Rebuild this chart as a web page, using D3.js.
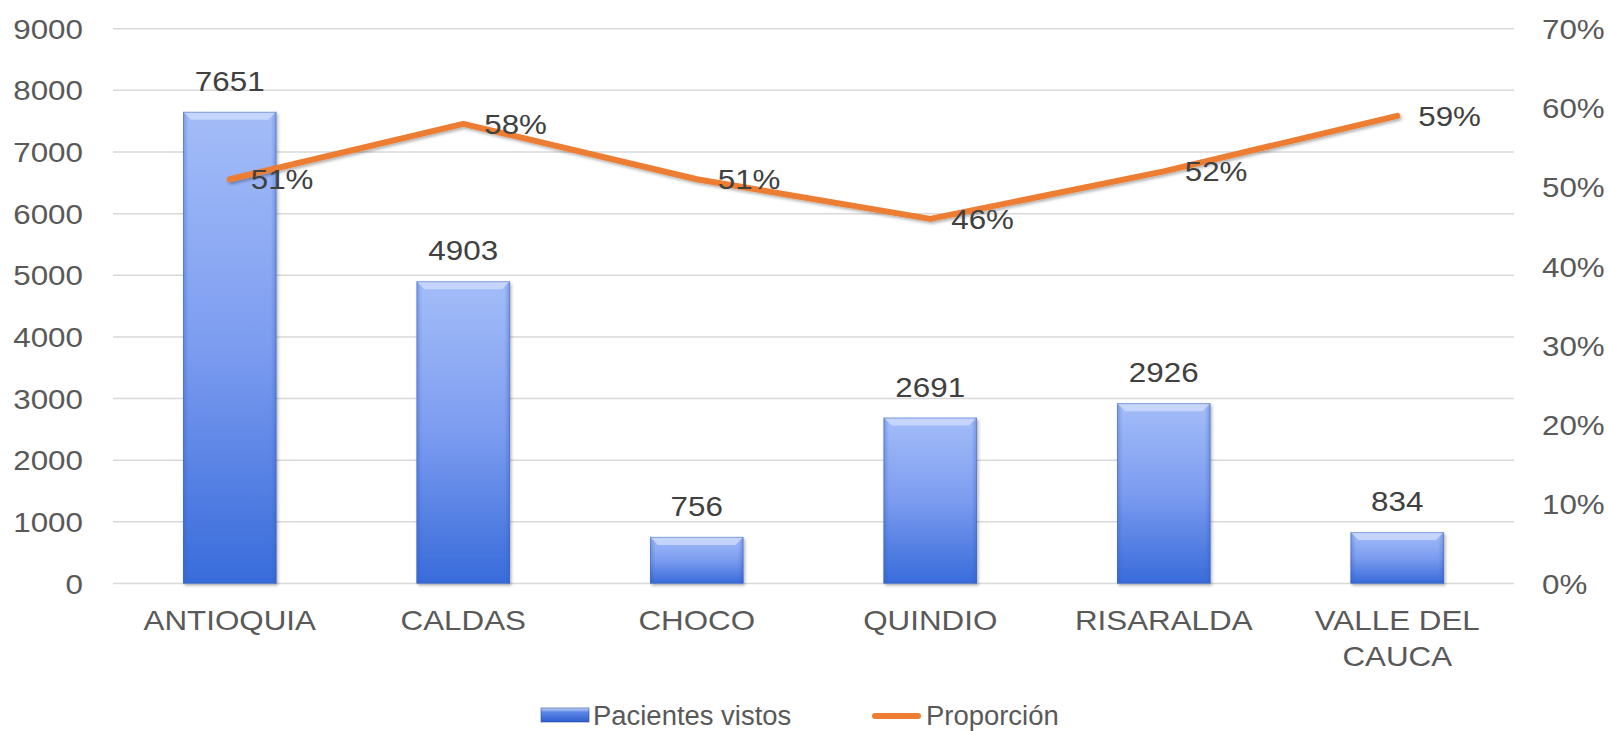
<!DOCTYPE html>
<html><head><meta charset="utf-8">
<script src="https://cdn.jsdelivr.net/npm/d3@7"></script>
<style>body{margin:0;background:#fff;}svg{display:block;font-family:"Liberation Sans",Arial,sans-serif;}</style>
</head><body>
<svg id="c" width="1608" height="731"></svg>
<script>
const categories = ["ANTIOQUIA","CALDAS","CHOCO","QUINDIO","RISARALDA","VALLE DEL CAUCA"];
const pacientes = [7651, 4903, 756, 2691, 2926, 834];
const proporcion = [0.51, 0.58, 0.51, 0.46, 0.52, 0.59];
const leftTicks = [0,1000,2000,3000,4000,5000,6000,7000,8000,9000];
const rightTicks = [0,0.1,0.2,0.3,0.4,0.5,0.6,0.7];
const seriesNames = ["Pacientes vistos","Proporción"];

const svg = d3.select("#c");
const L = 113, R = 1514, T = 28.7, B = 583.5;
const SX = 1.12, FS = 28;
const x = d3.scaleBand().domain(categories).range([L, R]).paddingInner(0.6).paddingOuter(0.3);
const xc = d3.scaleBand().domain(categories).range([L, R]);
const y = d3.scaleLinear().domain([0, 9000]).range([B, T]);
const y2 = d3.scaleLinear().domain([0, 0.7]).range([B, T]);

// helper: stretched text
function stext(parent, tx, ty, str, anchor, fill, size, dy, sx) {
  return parent.append("text")
    .attr("transform", `translate(${tx},${ty}) scale(${sx || SX},1)`)
    .attr("text-anchor", anchor).attr("fill", fill).style("font-size", (size||FS)+"px")
    .attr("dy", dy || 0).text(str);
}

const defs = svg.append("defs");
const g = defs.append("linearGradient").attr("id","barg").attr("x1",0).attr("y1",0).attr("x2",0).attr("y2",1);
g.append("stop").attr("offset","0%").attr("stop-color","#a4bdf8");
g.append("stop").attr("offset","50%").attr("stop-color","#7c9cf0");
g.append("stop").attr("offset","100%").attr("stop-color","#386bda");
const gs = defs.append("linearGradient").attr("id","side").attr("x1",0).attr("y1",0).attr("x2",1).attr("y2",0);
gs.append("stop").attr("offset","0%").attr("stop-color","#2f5bbf").attr("stop-opacity",0.35);
gs.append("stop").attr("offset","6%").attr("stop-color","#2f5bbf").attr("stop-opacity",0);
gs.append("stop").attr("offset","94%").attr("stop-color","#2f5bbf").attr("stop-opacity",0);
gs.append("stop").attr("offset","100%").attr("stop-color","#2f5bbf").attr("stop-opacity",0.35);
const f = defs.append("filter").attr("id","sh").attr("x","-10%").attr("y","-10%").attr("width","130%").attr("height","130%");
f.append("feDropShadow").attr("dx",1.5).attr("dy",2).attr("stdDeviation",1.5).attr("flood-color","#000").attr("flood-opacity",0.3);

// gridlines
svg.append("g").selectAll("line").data(leftTicks).join("line")
  .attr("x1", L).attr("x2", R).attr("y1", d => y(d)).attr("y2", d => y(d))
  .attr("stroke", "#d9d9d9").attr("stroke-width", 1.5);

// left axis (positions from scale)
const gl = svg.append("g");
leftTicks.forEach(t => stext(gl, L - 30, y(t), d3.format("d")(t), "end", "#595959", FS, "0.36em"));

// right axis
const gr = svg.append("g");
rightTicks.forEach(t => stext(gr, R + 28, y2(t), d3.format(".0%")(t), "start", "#595959", FS, "0.36em"));

// x labels
const gx = svg.append("g");
categories.forEach(d => {
  const words = d === "VALLE DEL CAUCA" ? ["VALLE DEL","CAUCA"] : [d];
  words.forEach((w,i) => stext(gx, xc(d) + xc.bandwidth()/2, 630 + i*36, w, "middle", "#595959", FS));
});

// bars
const bars = svg.append("g").selectAll("g").data(categories).join("g");
bars.each(function(d,i){
  const gb = d3.select(this);
  const bx = x(d), bw = x.bandwidth(), by = y(pacientes[i]), bh = B - by;
  gb.append("rect").attr("x",bx).attr("y",by).attr("width",bw).attr("height",bh)
    .attr("fill","url(#barg)").attr("filter","url(#sh)");
  gb.append("rect").attr("x",bx).attr("y",by).attr("width",bw).attr("height",bh).attr("fill","url(#side)");
  const bev = Math.min(8, bh/3);
  gb.append("path").attr("d", `M${bx},${by} L${bx+bw},${by} L${bx+bw-bev},${by+bev} L${bx+bev},${by+bev} Z`)
    .attr("fill","#d2defc").attr("opacity",0.75);
  gb.append("rect").attr("x",bx+0.5).attr("y",by+0.5).attr("width",bw-1).attr("height",bh-1)
    .attr("fill","none").attr("stroke","#3f63b8").attr("stroke-opacity",0.45).attr("stroke-width",1);
  stext(gb, bx+bw/2, by-21, pacientes[i], "middle", "#404040", FS);
});

// line
const line = d3.line().x((d,i)=> xc(categories[i]) + xc.bandwidth()/2).y(d => y2(d));
svg.append("path").datum(proporcion).attr("d", line).attr("fill","none")
  .attr("stroke","#ED7D31").attr("stroke-width",6).attr("stroke-linecap","round").attr("stroke-linejoin","round")
  .attr("filter","url(#sh)");
const gll = svg.append("g");
proporcion.forEach((p,i) => stext(gll, xc(categories[i]) + xc.bandwidth()/2 + 21, y2(p), d3.format(".0%")(p), "start", "#404040", FS, "0.36em"));

// legend
const lg = svg.append("g");
const lgd = defs.append("linearGradient").attr("id","lgg").attr("x1",0).attr("y1",0).attr("x2",0).attr("y2",1);
lgd.append("stop").attr("offset","0%").attr("stop-color","#c9d9fb");
lgd.append("stop").attr("offset","30%").attr("stop-color","#5b86e6");
lgd.append("stop").attr("offset","100%").attr("stop-color","#2f5fcf");
lg.append("rect").attr("x",541).attr("y",708).attr("width",48).attr("height",14).attr("fill","url(#lgg)").attr("stroke","#2d4f9e").attr("stroke-opacity",0.6);
stext(lg, 593, 715, seriesNames[0], "start", "#595959", 28, "0.36em", 0.98);
lg.append("line").attr("x1",875).attr("x2",918).attr("y1",716).attr("y2",716).attr("stroke","#ED7D31").attr("stroke-width",6).attr("stroke-linecap","round");
stext(lg, 926, 715, seriesNames[1], "start", "#595959", 28, "0.36em", 0.98);
</script>
</body></html>
